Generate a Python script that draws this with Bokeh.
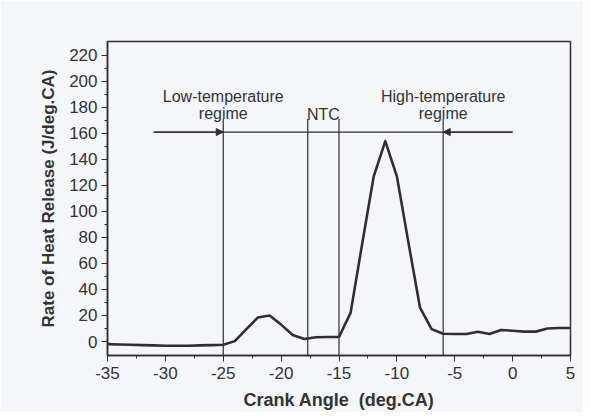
from bokeh.plotting import figure
from bokeh.models import Range1d, FixedTicker, Arrow, NormalHead, Label, CustomJSTickFormatter
from bokeh.embed import file_html
from bokeh.resources import INLINE

# ---- data ----
crank_angle = list(range(-35, 6))
heat_release = [-2, -2.3, -2.5, -2.8, -3, -3.2, -3.2, -3.2, -3, -2.8,
                -2.5, 0.3, 9.5, 18.5, 20, 13, 5, 2, 3.3, 3.5,
                3.5, 22, 75, 127, 154, 127, 76, 26, 9.5, 6,
                5.8, 5.8, 7.5, 5.8, 8.8, 8.3, 7.6, 7.6, 10, 10.4, 10.4]
boundaries = [-25, -17.7, -15, -6]
x_ticks = [-35, -30, -25, -20, -15, -10, -5, 0, 5]
y_ticks = [0, 20, 40, 60, 80, 100, 120, 140, 160, 180, 200, 220]
regime_labels = [("Low-temperature", "regime", -25), ("NTC", None, -16.35),
                 ("High-temperature", "regime", -6)]

INK = "#2f2f2f"
TXT = "#333333"
BG = "#f4f6f9"
FONT = "Liberation Sans"

p = figure(width=583, height=412, output_backend="svg", toolbar_location=None,
           x_range=Range1d(-35, 5), y_range=Range1d(-10.75, 230.6),
           min_border_left=107, min_border_right=13, min_border_top=41, min_border_bottom=50)
p.background_fill_color = BG
p.border_fill_color = BG
p.outline_line_color = INK
p.outline_line_width = 1.5
p.xgrid.visible = False
p.ygrid.visible = False

for ax in (p.xaxis[0], p.yaxis[0]):
    ax.axis_line_color = INK
    ax.axis_line_width = 1.5
    ax.major_tick_line_color = INK
    ax.minor_tick_line_color = INK
    ax.major_tick_out = 6
    ax.major_tick_in = 0
    ax.minor_tick_out = 3
    ax.minor_tick_in = 0
    ax.major_label_text_font = FONT
    ax.major_label_text_font_size = "17px"
    ax.major_label_text_color = TXT
    ax.axis_label_text_font = FONT
    ax.axis_label_text_font_style = "bold"
    ax.axis_label_text_color = TXT
    ax.formatter = CustomJSTickFormatter(code="return String(tick);")

p.xaxis.ticker = FixedTicker(ticks=x_ticks, minor_ticks=[-35 + 2.5 * i for i in range(17)])
p.yaxis.ticker = FixedTicker(ticks=y_ticks, minor_ticks=[10 * i for i in range(23)])
p.xaxis.major_label_standoff = 5
p.yaxis.major_label_standoff = 4
p.xaxis.axis_label = "Crank Angle\u00a0\u00a0(deg.CA)"
p.yaxis.axis_label = "Rate of Heat Release (J/deg.CA)"
p.xaxis.axis_label_text_font_size = "18px"
p.yaxis.axis_label_text_font_size = "17px"
p.xaxis.axis_label_standoff = 8
p.yaxis.axis_label_standoff = 8

# vertical regime boundaries
p.segment(x0=boundaries, y0=[-10.75] * 4, x1=boundaries, y1=[171] * 4,
          line_color=INK, line_width=1.2)

# horizontal arrow line
p.segment(x0=[-31], y0=[161], x1=[0], y1=[161], line_color=INK, line_width=1.2)
for xs, xe in ((-31, boundaries[0]), (0, boundaries[3])):
    p.add_layout(Arrow(x_start=xs, y_start=161, x_end=xe, y_end=161,
                       line_color=INK, line_width=1.2,
                       end=NormalHead(size=7, fill_color=INK, line_color=INK, line_width=1)))

# curve
p.line(crank_angle, heat_release, line_color=INK, line_width=2.6, line_join="round")

# regime text
for l1, l2, xc in regime_labels:
    if l2 is None:
        p.add_layout(Label(x=xc, y=174.5, text=l1, text_align="center", text_baseline="alphabetic",
                           text_font=FONT, text_font_size="16px", text_color=TXT))
    else:
        p.add_layout(Label(x=xc, y=188.5, text=l1, text_align="center", text_baseline="alphabetic",
                           text_font=FONT, text_font_size="16px", text_color=TXT))
        p.add_layout(Label(x=xc, y=175, text=l2, text_align="center", text_baseline="alphabetic",
                           text_font=FONT, text_font_size="16px", text_color=TXT))

open("out.html", "w").write(file_html(p, INLINE))
